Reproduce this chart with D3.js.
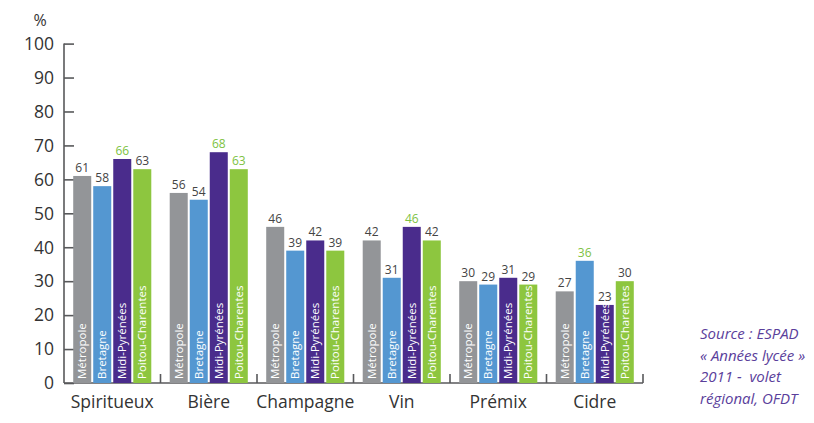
<!DOCTYPE html>
<html>
<head>
<meta charset="utf-8">
<script src="https://cdn.jsdelivr.net/npm/d3@7"></script>
<style>
body { margin: 0; background: #fff; }
text { font-family: "Open Sans", "DejaVu Sans", sans-serif; }
</style>
</head>
<body>
<script>
var width = 814, height = 423;

var categories = ["Spiritueux", "Bière", "Champagne", "Vin", "Prémix", "Cidre"];
var regions = ["Métropole", "Bretagne", "Midi-Pyrénées", "Poitou-Charentes"];
var regionColors = ["#939598", "#5497d1", "#4a2c8c", "#8dc63f"];
// one row per category, one value per region (%)
var values = [
    [61, 58, 66, 63],
    [56, 54, 68, 63],
    [46, 39, 42, 39],
    [42, 31, 46, 42],
    [30, 29, 31, 29],
    [27, 36, 23, 30]
];
// labels drawn in green in the source chart
var highlighted = [
    [0, 0, 1, 0],
    [0, 0, 1, 1],
    [0, 0, 0, 0],
    [0, 0, 1, 0],
    [0, 0, 0, 0],
    [0, 1, 0, 0]
];
var yTicks = [0, 10, 20, 30, 40, 50, 60, 70, 80, 90, 100];
var sourceLines = ["Source : ESPAD", "« Années lycée »", "2011 -  volet", "régional, OFDT"];

var svg = d3.select("body").append("svg")
    .attr("width", width)
    .attr("height", height);

var x = d3.scaleBand().domain(categories).range([64, 643]).padding(0);
var xs = d3.scaleBand().domain(regions).range([0, x.bandwidth()])
    .paddingInner(0.1).paddingOuter(0.46);
var y = d3.scaleLinear().domain([0, 100]).range([383, 43.6]);

//y axis, ticks pointing inside
var yAxis = d3.axisRight(y).tickValues(yTicks).tickSize(10).tickFormat("");
var gy = svg.append("g").attr("transform", "translate(64,0)").call(yAxis);
gy.select(".domain").attr("stroke", "#58595b").attr("stroke-width", 1.6)
    .attr("d", "M0," + y(100) + "V" + y(0));
gy.selectAll(".tick line").attr("stroke", "#58595b").attr("stroke-width", 1.6);

svg.append("g").selectAll("text").data(yTicks).enter().append("text")
    .attr("x", 54)
    .attr("y", function(d){ return y(d); })
    .attr("dy", "0.36em")
    .attr("text-anchor", "end")
    .attr("fill", "#333")
    .attr("font-size", 17.5)
    .text(function(d){ return d; });

svg.append("text").attr("x", 40).attr("y", 26).attr("text-anchor", "middle")
    .attr("fill", "#333").attr("font-size", 16).text("%");

//x axis with separators between groups
svg.append("line").attr("x1", 64).attr("x2", 643).attr("y1", y(0)).attr("y2", y(0))
    .attr("stroke", "#58595b").attr("stroke-width", 1.6);
var seps = categories.map(function(c){ return x(c) + x.bandwidth(); });
svg.append("g").selectAll("line").data(seps).enter().append("line")
    .attr("x1", function(d){ return d; }).attr("x2", function(d){ return d; })
    .attr("y1", y(0)).attr("y2", y(0) - 9)
    .attr("stroke", "#58595b").attr("stroke-width", 1.6);

svg.append("g").selectAll("text").data(categories).enter().append("text")
    .attr("x", function(d){ return x(d) + x.bandwidth() / 2; })
    .attr("y", 408)
    .attr("text-anchor", "middle")
    .attr("fill", "#333")
    .attr("font-size", 17.5)
    .text(function(d){ return d; });

//bars
var groups = svg.append("g").selectAll("g").data(categories).enter().append("g")
    .attr("transform", function(d){ return "translate(" + x(d) + ",0)"; });

var cells = groups.selectAll("g").data(function(d, i){
    return regions.map(function(r, j){
        return {region: r, value: values[i][j], hi: highlighted[i][j], color: regionColors[j]};
    });
}).enter().append("g");

cells.append("rect")
    .attr("x", function(d){ return xs(d.region); })
    .attr("y", function(d){ return y(d.value); })
    .attr("width", xs.bandwidth())
    .attr("height", function(d){ return y(0) - y(d.value); })
    .attr("fill", function(d){ return d.color; });

cells.append("text")
    .attr("x", function(d){ return xs(d.region) + xs.bandwidth() / 2; })
    .attr("y", function(d){ return y(d.value) - 4; })
    .attr("text-anchor", "middle")
    .attr("font-size", 12)
    .attr("fill", function(d){ return d.hi ? "#7dc242" : "#444"; })
    .text(function(d){ return d.value; });

cells.append("text")
    .attr("transform", function(d){
        return "translate(" + (xs(d.region) + xs.bandwidth() / 2 + 4) + "," + (y(0) - 4) + ") rotate(-90)";
    })
    .attr("font-size", 11.5)
    .attr("fill", "#fff")
    .text(function(d){ return d.region; });

//source note
svg.append("g").selectAll("text").data(sourceLines).enter().append("text")
    .attr("x", 700)
    .attr("y", function(d, i){ return 339 + i * 21.5; })
    .attr("font-size", 15)
    .attr("font-style", "italic")
    .attr("fill", "#5a3e9b")
    .style("white-space", "pre")
    .text(function(d){ return d; });
</script>
</body>
</html>
